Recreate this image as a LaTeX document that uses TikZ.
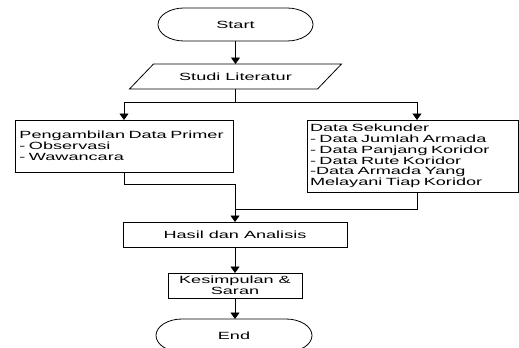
\documentclass[tikz,border=0pt]{standalone}
\usepackage{fontspec}
\setmainfont{Liberation Sans}[FakeStretch=1.74]
\usetikzlibrary{arrows.meta}
\tikzset{
  every node/.style={font=\fontsize{10.4bp}{10.8bp}\selectfont, outer sep=0pt},
  boxnode/.style={draw, line width=0.8bp, rectangle, inner ysep=0pt},
  termnode/.style={rectangle, minimum width=155bp, minimum height=33bp, inner sep=0pt},
  paranode/.style={rectangle, minimum width=188bp, minimum height=25bp, inner sep=0pt},
  conn/.style={line width=0.8bp},
  arr/.style={conn, -{Triangle[width=9bp,length=6.5bp]}},
  outline/.style={line width=0.8bp}
}
\newcommand\termoutline[1]{%
  \draw[outline] ([xshift=26bp]#1.north west) -- ([xshift=-26bp]#1.north east)
    arc[start angle=90,end angle=-90,x radius=26bp,y radius=16.5bp]
    -- ([xshift=26bp]#1.south west)
    arc[start angle=270,end angle=90,x radius=26bp,y radius=16.5bp] -- cycle;}
\begin{document}
\begin{tikzpicture}[x=1bp,y=1bp]
\useasboundingbox (0,0) rectangle (519,347);
\clip (0,0) rectangle (519,347);
% nodes
\node[termnode] (start) at (235.5,322.5) {Start};
\termoutline{start}
\node[paranode] (lit) at (235.5,270.5) {Studi Literatur};
\draw[outline] ([xshift=-12bp]lit.south west) -- ([xshift=12bp]lit.north west)
  -- ([xshift=12bp]lit.north east) -- ([xshift=-12bp]lit.south east) -- cycle;
\node[boxnode, minimum width=218bp, minimum height=52bp, text width=209bp, inner xsep=4.5bp, align=left]
  (primer) at (124,201) {Pengambilan Data Primer\\- Observasi\\- Wawancara};
\node[boxnode, minimum width=211bp, minimum height=72bp, text width=205bp, inner xsep=3bp, align=left]
  (sekunder) at (412.5,191) {Data Sekunder\\- Data Jumlah Armada\\- Data Panjang Koridor\\- Data Rute Koridor\\-Data Armada Yang\\Melayani Tiap Koridor};
\node[boxnode, minimum width=224bp, minimum height=25bp] (hasil) at (235,112.5) {Hasil dan Analisis};
\node[boxnode, minimum width=134bp, minimum height=25bp, align=center] (kes) at (235,61.5) {Kesimpulan \&\\Saran};
\node[termnode, minimum width=156bp] (end) at (234,11.5) {End};
\termoutline{end}
% connectors
\coordinate (br) at (235.5,245);
\coordinate (j1) at (235,163);
\coordinate (j2) at (235,138);
\draw[arr] (start.south) -- (lit.north);
\draw[conn] (lit.south) -- (br);
\draw[arr] (br) -| (primer.north);
\draw[arr] (br) -| ([xshift=4.5bp]sekunder.north);
\draw[conn] (primer.south) |- (j1);
\draw[conn] ([xshift=4.5bp]sekunder.south) |- (j2);
\draw[arr] (j1) -- (hasil.north);
\draw[arr] (hasil.south) -- (kes.north);
\draw[arr] (kes.south) -- (kes.south |- end.north);
\end{tikzpicture}
\end{document}
